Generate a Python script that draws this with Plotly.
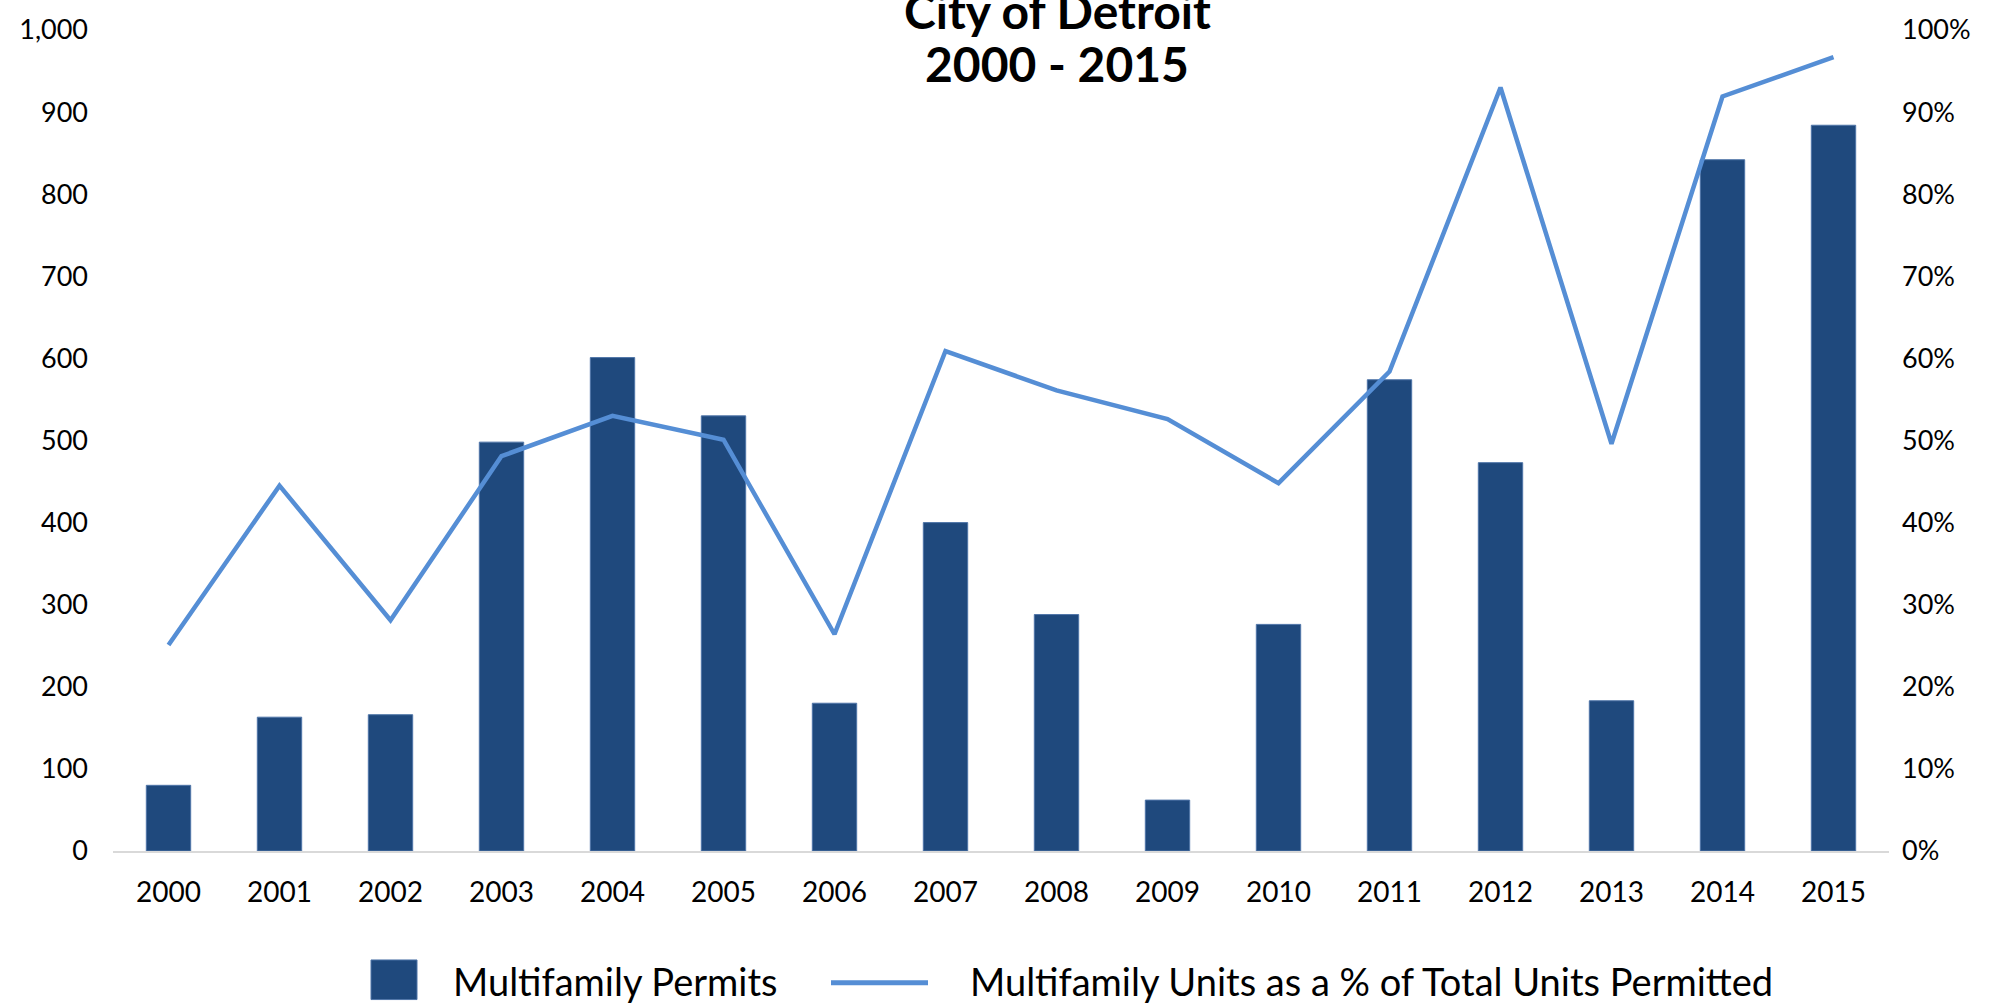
import plotly.graph_objects as go

# Annual multifamily permit data, City of Detroit
years = ["2000", "2001", "2002", "2003", "2004", "2005", "2006", "2007",
         "2008", "2009", "2010", "2011", "2012", "2013", "2014", "2015"]
multifamily_permits = [80, 163, 166, 498, 601, 530, 180, 400,
                       288, 62, 276, 574, 473, 183, 842, 884]
multifamily_share = [0.251, 0.445, 0.281, 0.481, 0.530, 0.501, 0.264, 0.609,
                     0.561, 0.526, 0.448, 0.584, 0.930, 0.496, 0.919, 0.967]

left_ticks = [0, 100, 200, 300, 400, 500, 600, 700, 800, 900, 1000]
left_tick_text = ["0", "100", "200", "300", "400", "500", "600", "700", "800", "900", "1,000"]
right_ticks = [0, 0.1, 0.2, 0.3, 0.4, 0.5, 0.6, 0.7, 0.8, 0.9, 1.0]
right_tick_text = ["0%", "10%", "20%", "30%", "40%", "50%", "60%", "70%", "80%", "90%", "100%"]

bar_name = "Multifamily Permits"
line_name = "Multifamily Units as a % of Total Units Permitted"
title_lines = ["City of Detroit", "2000 - 2015"]

BAR_COLOR = "#1f497d"
LINE_COLOR = "#558ed5"
FONT = "Lato, 'Noto Sans', sans-serif"

W, H = 2015, 1003
ML, MR, MT, MB = 113, 126, 22, 152
PW, PH = W - ML - MR, H - MT - MB


def px_x(x):
    return (x - ML) / PW


def px_y(y):
    return (H - MB - y) / PH


fig = go.Figure()
fig.add_trace(go.Bar(
    x=years, y=multifamily_permits, name=bar_name,
    marker=dict(color=BAR_COLOR, line=dict(color="#4f75a8", width=1)),
    width=0.4, yaxis="y",
))
fig.add_trace(go.Scatter(
    x=years, y=multifamily_share, name=line_name, mode="lines",
    line=dict(color=LINE_COLOR, width=4.5), yaxis="y2",
))

fig.update_layout(
    width=W, height=H,
    margin=dict(l=ML, r=MR, t=MT, b=MB),
    paper_bgcolor="white", plot_bgcolor="white",
    showlegend=False,
    font=dict(family=FONT, color="black"),
    xaxis=dict(
        type="category", showgrid=False, showline=True,
        linecolor="#d9d9d9", linewidth=2, ticks="",
        tickfont=dict(size=28), ticklabelstandoff=15,
    ),
    yaxis=dict(
        range=[0, 1000], tickvals=left_ticks, ticktext=left_tick_text,
        showgrid=False, zeroline=False, showline=False, ticks="",
        tickfont=dict(size=27), ticklabelstandoff=24,
    ),
    yaxis2=dict(
        range=[0, 1.0], tickvals=right_ticks, ticktext=right_tick_text,
        overlaying="y", side="right",
        showgrid=False, zeroline=False, showline=False, ticks="",
        tickfont=dict(size=27), ticklabelstandoff=12,
    ),
)

# Chart title (two bold lines centred over the plot)
fig.add_annotation(text="<b>%s</b>" % title_lines[0], xref="paper", yref="paper",
                   x=px_x(1057), y=px_y(2), xanchor="center", yanchor="middle",
                   showarrow=False, font=dict(size=48, family=FONT))
fig.add_annotation(text="<b>%s</b>" % title_lines[1], xref="paper", yref="paper",
                   x=px_x(1057), y=px_y(56), xanchor="center", yanchor="middle",
                   showarrow=False, font=dict(size=48, family=FONT))

# Legend row along the bottom
fig.add_shape(type="rect", xref="paper", yref="paper",
              x0=px_x(371), x1=px_x(417), y0=px_y(1001), y1=px_y(961),
              fillcolor=BAR_COLOR, line=dict(color="#4f75a8", width=1))
fig.add_annotation(text=bar_name, xref="paper", yref="paper",
                   x=px_x(451), y=px_y(982), xanchor="left", yanchor="middle",
                   showarrow=False, font=dict(size=38, family=FONT))
fig.add_shape(type="line", xref="paper", yref="paper",
              x0=px_x(831), x1=px_x(928), y0=px_y(984), y1=px_y(984),
              line=dict(color=LINE_COLOR, width=5))
fig.add_annotation(text=line_name, xref="paper", yref="paper",
                   x=px_x(968), y=px_y(982), xanchor="left", yanchor="middle",
                   showarrow=False, font=dict(size=38, family=FONT))

fig.write_html("out.html")
